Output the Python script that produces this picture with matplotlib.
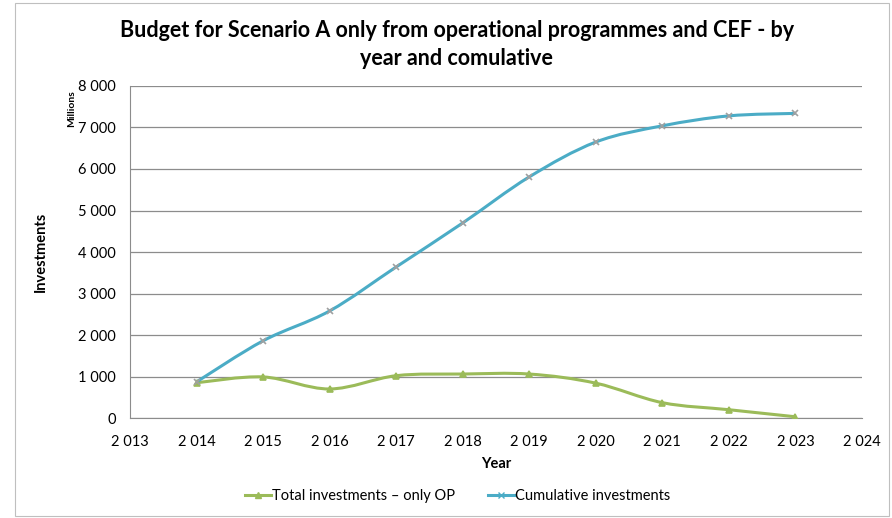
"""
Budget for Scenario A (OP + CEF): yearly and cumulative investments, Excel-style smoothed lines.
"""
import matplotlib
matplotlib.use("Agg")
import matplotlib.pyplot as plt
from matplotlib.path import Path
from matplotlib.patches import PathPatch, Rectangle
from matplotlib.ticker import FuncFormatter, MultipleLocator

plt.rcParams["font.family"] = ["Lato", "DejaVu Sans"]

# --- Data (millions) ---
years = [2014, 2015, 2016, 2017, 2018, 2019, 2020, 2021, 2022, 2023]
total_op = [850, 990, 700, 1020, 1060, 1060, 840, 370, 200, 30]
cumulative = [870, 1860, 2580, 3640, 4700, 5810, 6650, 7040, 7280, 7340]

GREEN = "#9BBB59"
CYAN = "#4BACC6"


def smooth_path(xs, ys):
    # Catmull-Rom style cubic Bezier through the points (like Excel "smoothed line")
    pts = list(zip(xs, ys))
    verts = [pts[0]]
    codes = [Path.MOVETO]
    n = len(pts)
    for i in range(n - 1):
        p0 = pts[i - 1] if i > 0 else pts[i]
        p1 = pts[i]
        p2 = pts[i + 1]
        p3 = pts[i + 2] if i + 2 < n else pts[i + 1]
        c1 = (p1[0] + (p2[0] - p0[0]) / 6, p1[1] + (p2[1] - p0[1]) / 6)
        c2 = (p2[0] - (p3[0] - p1[0]) / 6, p2[1] - (p3[1] - p1[1]) / 6)
        verts += [c1, c2, p2]
        codes += [Path.CURVE4] * 3
    return Path(verts, codes)


fig = plt.figure(figsize=(8.92, 5.18), dpi=100)
fig.patches.append(Rectangle((0.017, 0.004), 0.98, 0.99, transform=fig.transFigure,
                             fill=False, edgecolor="#BFBFBF", linewidth=0.8))
ax = fig.add_axes([0.1457, 0.193, 0.8207, 0.641])

for ys, color, marker, ms, label in [
    (total_op, GREEN, "^", 5, "Total investments \u2013 only OP"),
    (cumulative, CYAN, "x", 5, "Cumulative investments"),
]:
    ax.add_patch(PathPatch(smooth_path(years, ys), facecolor="none",
                           edgecolor=color, linewidth=2.2, zorder=3))
    ax.plot(years, ys, linestyle="none", marker=marker, markersize=ms,
            color=color, markeredgecolor="#A0A0A0" if marker == "x" else color,
            markeredgewidth=1.2, zorder=4)
    ax.plot([], [], color=color, linewidth=2.2, marker=marker, markersize=ms,
            label=label)

ax.set_xlim(2013, 2024)
ax.set_ylim(0, 8000)
ax.xaxis.set_major_locator(MultipleLocator(1))
ax.yaxis.set_major_locator(MultipleLocator(1000))
space_fmt = FuncFormatter(lambda v, p: f"{int(round(v)):,}".replace(",", " "))
ax.xaxis.set_major_formatter(space_fmt)
ax.yaxis.set_major_formatter(space_fmt)
ax.tick_params(axis="both", length=0, labelsize=10.5, colors="#000000")
ax.tick_params(axis="x", pad=12)
ax.tick_params(axis="y", pad=10)

ax.grid(True, axis="y", color="#8C8C8C", linewidth=0.9)
ax.set_axisbelow(True)
for side in ["top", "right"]:
    ax.spines[side].set_visible(False)
ax.spines["left"].set_color("#8C8C8C")
ax.spines["bottom"].set_color("#8C8C8C")

ax.set_xlabel("Year", fontsize=10.5, fontweight="bold", labelpad=6)
ax.set_ylabel("Investments", fontsize=10.5, fontweight="bold", labelpad=22)
fig.text(0.080, 0.79, "Millions", rotation=90, fontsize=7.5, fontweight="bold",
         ha="center", va="center")

fig.suptitle("Budget for Scenario A only from operational programmes and CEF - by\n"
             "year and comulative", x=0.512, y=0.962, fontsize=15.5,
             fontweight="bold", linespacing=1.45)

fig.legend(loc="center", bbox_to_anchor=(0.513, 0.042), ncol=2, frameon=False,
           fontsize=10.5, handlelength=1.8, handletextpad=0.1, columnspacing=2.2)

plt.savefig("out.png", dpi=100)
plt.close()
